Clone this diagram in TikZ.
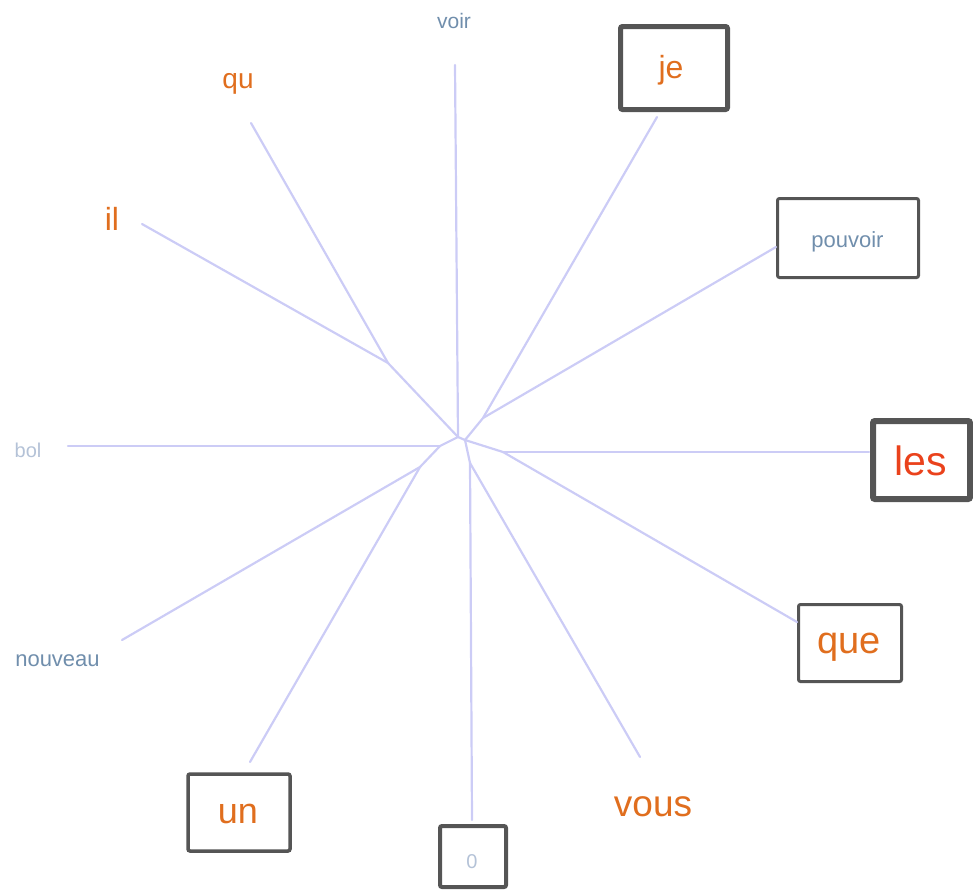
\documentclass[tikz,border=0pt]{standalone}
\usepackage{fontspec}
\setmainfont{Liberation Sans}
\definecolor{edgec}{RGB}{204,204,246}
\definecolor{orng}{RGB}{224,110,30}
\definecolor{redo}{RGB}{234,66,28}
\definecolor{slate}{RGB}{112,142,172}
\definecolor{pale}{RGB}{180,194,215}
\definecolor{boxc}{RGB}{85,85,85}
\begin{document}
\begin{tikzpicture}[x=1pt,y=-1pt,
  edge/.style={draw=edgec,line width=2.2pt,line cap=round},
  wbox/.style={draw=boxc,rounded corners=2pt,inner sep=0pt,outer sep=0pt},
  lbl/.style={anchor=base,inner sep=0pt}]
\useasboundingbox (0,0) rectangle (973,889);
% boxes
\node[wbox,line width=5pt,minimum width=107pt,minimum height=83pt] (bje) at (674,68) {};
\node[wbox,line width=3pt,minimum width=141pt,minimum height=79pt] (bpou) at (848,238) {};
\node[wbox,line width=6pt,minimum width=97pt,minimum height=78pt] (bles) at (921.5,460) {};
\node[wbox,line width=3pt,minimum width=103pt,minimum height=77pt] (bque) at (850,643) {};
\node[wbox,line width=3.5pt,minimum width=102pt,minimum height=77pt] (bun) at (239,812.5) {};
\node[wbox,line width=4pt,minimum width=66pt,minimum height=61pt] (bzero) at (473,856.5) {};
% labels
\node[lbl,text=slate] (tvoir) at (454,28) {\fontsize{21}{21}\selectfont voir};
\node[lbl,text=orng] (tqu) at (238,88) {\fontsize{28}{28}\selectfont qu};
\node[lbl,text=orng] (til) at (112,230) {\fontsize{32}{32}\selectfont il};
\node[lbl,text=orng] (tje) at (671,78) {\fontsize{32}{32}\selectfont je};
\node[lbl,text=slate] (tpou) at (847.5,247) {\fontsize{22}{22}\selectfont pouvoir};
\node[lbl,text=redo] (tles) at (921,475) {\fontsize{41}{41}\selectfont les};
\node[lbl,text=orng] (tque) at (849,653) {\fontsize{38}{38}\selectfont que};
\node[lbl,text=orng] (tvous) at (653,816) {\fontsize{37}{37}\selectfont vous};
\node[lbl,text=orng] (tun) at (238,823) {\fontsize{36}{36}\selectfont un};
\node[lbl,text=pale] (tzero) at (472,868) {\fontsize{20}{20}\selectfont 0};
\node[lbl,text=slate] (tnou) at (57.5,666) {\fontsize{22}{22}\selectfont nouveau};
\node[lbl,text=pale] (tbol) at (28,457) {\fontsize{20}{20}\selectfont bol};
% tree points
\coordinate (c0) at (458,437);
\coordinate (c1) at (465,440);
\coordinate (nA) at (388,363);
\coordinate (nB) at (483,418);
\coordinate (nD) at (503,452);
\coordinate (nE) at (470,463);
\coordinate (nF) at (440,446);
\coordinate (nG) at (420,467);
\coordinate (lvoir) at (455,65);
\coordinate (lqu) at (251,123);
\coordinate (lil) at (142,224);
\coordinate (lje) at (657,117);
\coordinate (lpou) at (776,247);
\coordinate (lles) at (869,452);
\coordinate (lque) at (797,622);
\coordinate (lvous) at (640,757);
\coordinate (lzero) at (472,820);
\coordinate (lun) at (250,762);
\coordinate (lnou) at (122,640);
\coordinate (lbol) at (68,446);
% edges
\draw[edge] (c0) -- (lvoir);
\draw[edge] (c0) -- (nA);
\draw[edge] (nA) -- (lqu);
\draw[edge] (nA) -- (lil);
\draw[edge] (c0) -- (c1);
\draw[edge] (c1) -- (nB);
\draw[edge] (nB) -- (lje);
\draw[edge] (nB) -- (lpou);
\draw[edge] (c1) -- (nD);
\draw[edge] (nD) -- (lles);
\draw[edge] (nD) -- (lque);
\draw[edge] (c1) -- (nE);
\draw[edge] (nE) -- (lvous);
\draw[edge] (nE) -- (lzero);
\draw[edge] (c0) -- (nF);
\draw[edge] (nF) -- (lbol);
\draw[edge] (nF) -- (nG);
\draw[edge] (nG) -- (lnou);
\draw[edge] (nG) -- (lun);
\end{tikzpicture}
\end{document}
